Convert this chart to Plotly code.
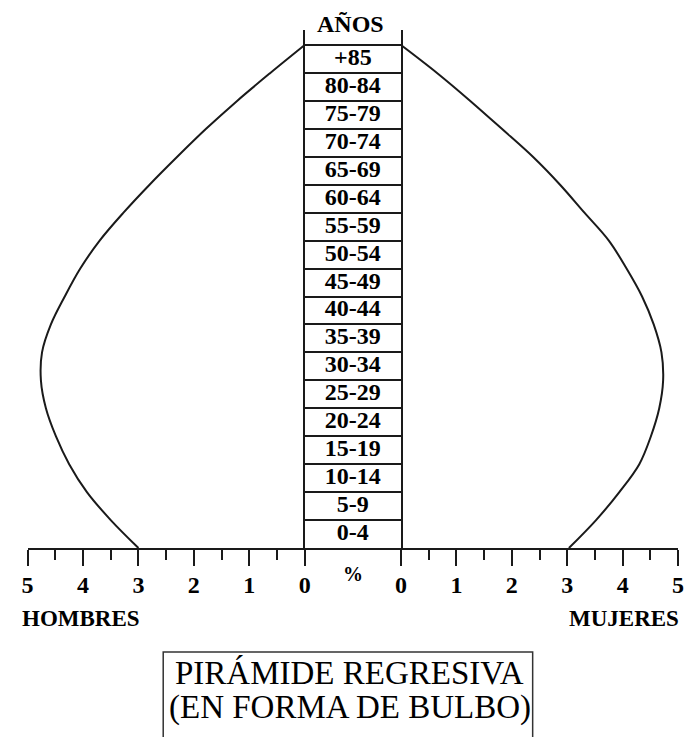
import plotly.graph_objects as go

# Límites de los grupos de edad (años) y porcentaje en cada límite
limites_edad = [0, 5, 10, 15, 20, 25, 30, 35, 40, 45, 50, 55, 60, 65, 70, 75, 80, 85, 90]
hombres = [3.00, 3.50, 3.93, 4.25, 4.49, 4.67, 4.76, 4.74, 4.58, 4.33,
           4.05, 3.70, 3.27, 2.80, 2.30, 1.78, 1.22, 0.62, 0.00]
mujeres = [3.03, 3.52, 3.94, 4.30, 4.51, 4.66, 4.73, 4.70, 4.56, 4.35,
           4.07, 3.75, 3.31, 2.87, 2.38, 1.82, 1.25, 0.65, 0.00]

grupos = ["0-4", "5-9", "10-14", "15-19", "20-24", "25-29", "30-34", "35-39",
          "40-44", "45-49", "50-54", "55-59", "60-64", "65-69", "70-74",
          "75-79", "80-84", "+85"]
centros = [e + 2.5 for e in limites_edad[:-1]]

porcentajes = [0, 1, 2, 3, 4, 5]

W, H = 689, 737
SERIF = "Liberation Serif"
NEGRO = "#1a1a1a"


def px_x(v):
    return v / W


def px_y(v):
    return (H - v) / H


Y_DOM = [px_y(548), px_y(30)]
Y_RANGE = [0, 90 * (548 - 30) / (548 - 45)]

fig = go.Figure()

fig.add_scatter(
    x=hombres, y=limites_edad, xaxis="x", yaxis="y",
    mode="lines", line=dict(color=NEGRO, width=2, shape="spline", smoothing=1.0),
    hoverinfo="skip", showlegend=False,
)
fig.add_scatter(
    x=mujeres, y=limites_edad, xaxis="x3", yaxis="y3",
    mode="lines", line=dict(color=NEGRO, width=2, shape="spline", smoothing=1.0),
    hoverinfo="skip", showlegend=False,
)
fig.add_scatter(
    x=[0.5] * len(grupos), y=centros, xaxis="x2", yaxis="y2",
    mode="text", text=grupos,
    textfont=dict(family=SERIF, size=24, color="black", weight="bold"),
    hoverinfo="skip", showlegend=False, cliponaxis=False,
)

eje_x = dict(
    showline=True, linecolor=NEGRO, linewidth=2,
    showgrid=False, zeroline=False,
    ticks="outside", ticklen=16, tickwidth=2, tickcolor=NEGRO,
    tickvals=porcentajes, ticktext=[str(p) for p in porcentajes],
    tickfont=dict(family=SERIF, size=24, color="black", weight="bold"),
    minor=dict(dtick=0.5, ticks="outside", ticklen=10, tickwidth=2, tickcolor=NEGRO),
    ticklabelstandoff=-2,
    fixedrange=True,
)
eje_y = dict(range=Y_RANGE, domain=Y_DOM, visible=False, fixedrange=True)

fig.update_layout(
    width=W, height=H,
    margin=dict(l=0, r=0, t=0, b=0),
    paper_bgcolor="white",
    plot_bgcolor="white",
    xaxis=dict(eje_x, domain=[px_x(22), px_x(304)], range=[5, 0], anchor="y"),
    xaxis3=dict(eje_x, domain=[px_x(402), px_x(684)], range=[0, 5], anchor="y3"),
    xaxis2=dict(
        domain=[px_x(304), px_x(402)], range=[0, 1], anchor="y2",
        showline=True, linecolor=NEGRO, linewidth=2,
        showgrid=False, zeroline=False, showticklabels=False, ticks="",
        fixedrange=True,
    ),
    yaxis=dict(eje_y, anchor="x"),
    yaxis3=dict(eje_y, anchor="x3"),
    yaxis2=dict(
        range=Y_RANGE, domain=Y_DOM, anchor="x2",
        showline=True, mirror=True, linecolor=NEGRO, linewidth=2,
        tickvals=limites_edad, showgrid=True, gridcolor=NEGRO, gridwidth=2,
        zeroline=False, showticklabels=False, ticks="",
        fixedrange=True,
    ),
)


def etiqueta(texto, x, y, size, anchor="center", bold=True):
    fig.add_annotation(
        x=px_x(x), y=px_y(y), xref="paper", yref="paper",
        xanchor=anchor, yanchor="middle",
        text=texto, showarrow=False,
        font=dict(family=SERIF, size=size, color="black",
                  weight="bold" if bold else "normal"),
    )


etiqueta("AÑOS", 351, 24, 24)
etiqueta("%", 353, 574, 20)
etiqueta("HOMBRES", 14, 618, 23, anchor="left")
etiqueta("MUJERES", 687, 618, 23, anchor="right")

# recuadro del título
fig.add_shape(
    type="rect", xref="paper", yref="paper",
    x0=px_x(160), x1=px_x(536), y0=-0.05, y1=px_y(652),
    line=dict(color="#333333", width=1.5), fillcolor="rgba(0,0,0,0)",
)
etiqueta("PIRÁMIDE REGRESIVA", 350, 673, 33, bold=False)
etiqueta("(EN FORMA DE BULBO)", 350, 707, 33, bold=False)

fig.write_html(
    "out.html",
    config={"displayModeBar": False},
    post_script="document.body.style.margin = '0';",
)
